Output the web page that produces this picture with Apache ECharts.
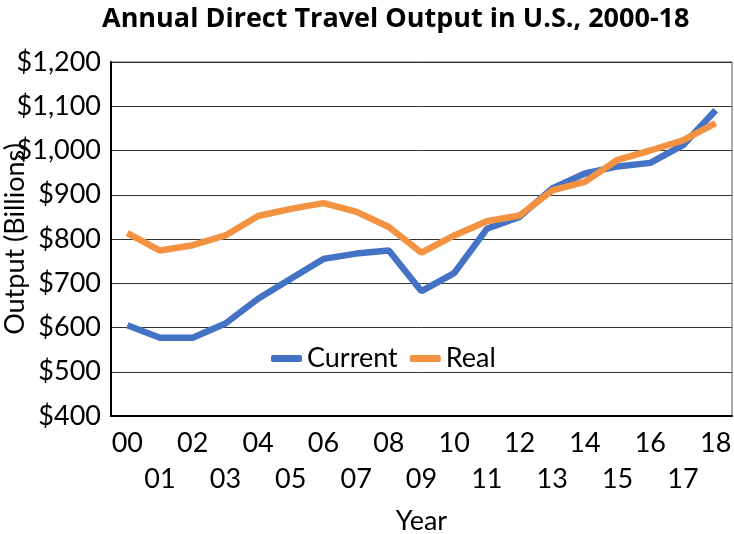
<!DOCTYPE html>
<html>
<head>
<meta charset="utf-8">
<script src="https://cdn.jsdelivr.net/npm/echarts@6/dist/echarts.min.js"></script>
<style>html,body{margin:0;padding:0;background:#fff}#c{width:734px;height:534px}</style>
</head>
<body>
<div id="c"></div>
<script>
const years = ['00','01','02','03','04','05','06','07','08','09','10','11','12','13','14','15','16','17','18'];
const current = [605, 577, 577, 609, 665, 710, 755, 767, 774, 682, 723, 823, 850, 914, 948, 964, 972, 1012, 1091];
const real = [813, 774, 786, 808, 852, 868, 881, 862, 827, 769, 808, 840, 853, 910, 929, 979, 1000, 1023, 1062];
const yTicks = [400, 500, 600, 700, 800, 900, 1000, 1100, 1200];

const FONT = 'Lato, "Liberation Sans", sans-serif';
const chart = echarts.init(document.getElementById('c'));
chart.setOption({
  animation: false,
  title: {
    text: 'Annual Direct Travel Output in U.S., 2000-18',
    left: 97, top: 1,
    textStyle: { fontFamily: '"Open Sans", sans-serif', fontWeight: 'bold', fontSize: 27, color: '#000' }
  },
  legend: {
    data: ['Current', 'Real'],
    left: 266, top: 340,
    icon: 'roundRect', itemWidth: 31, itemHeight: 7, itemGap: 12,
    textStyle: { fontFamily: FONT, fontSize: 27, color: '#000' }
  },
  grid: { left: 111, right: 2, top: 62, bottom: 118, show: true, borderColor: '#555', borderWidth: 1, outerBoundsMode: 'none', containLabel: false },
  xAxis: {
    type: 'category', data: years, boundaryGap: true,
    name: 'Year', nameLocation: 'middle', nameGap: 92, nameMoveOverlap: false,
    nameTextStyle: { fontFamily: FONT, fontSize: 27, color: '#000' },
    axisLine: { lineStyle: { color: '#000', width: 2 } },
    axisTick: { inside: true, alignWithLabel: true, length: 7, lineStyle: { color: '#555' } },
    axisLabel: {
      interval: 0, margin: 9, fontFamily: FONT, fontSize: 27, color: '#000', lineHeight: 36,
      formatter: (v, i) => (i % 2 === 0 ? v : '\n' + v)
    }
  },
  yAxis: {
    type: 'value', min: yTicks[0], max: yTicks[yTicks.length - 1], interval: 100,
    name: 'Output (Billions)', nameLocation: 'middle', nameGap: 82, nameRotate: 90, nameMoveOverlap: false,
    nameTextStyle: { fontFamily: FONT, fontSize: 27, color: '#000' },
    axisLine: { show: true, lineStyle: { color: '#000', width: 2 } },
    axisTick: { show: false },
    splitLine: { lineStyle: { color: '#333', width: 1 } },
    axisLabel: {
      margin: 10, fontFamily: FONT, fontSize: 27, color: '#000',
      formatter: v => '$' + v.toLocaleString('en-US')
    }
  },
  series: [
    { name: 'Current', type: 'line', data: current, showSymbol: false, lineStyle: { color: '#4472C4', width: 6.5 }, itemStyle: { color: '#4472C4' } },
    { name: 'Real', type: 'line', data: real, showSymbol: false, lineStyle: { color: '#F39240', width: 6.5 }, itemStyle: { color: '#F39240' } }
  ]
});
</script>
</body>
</html>
